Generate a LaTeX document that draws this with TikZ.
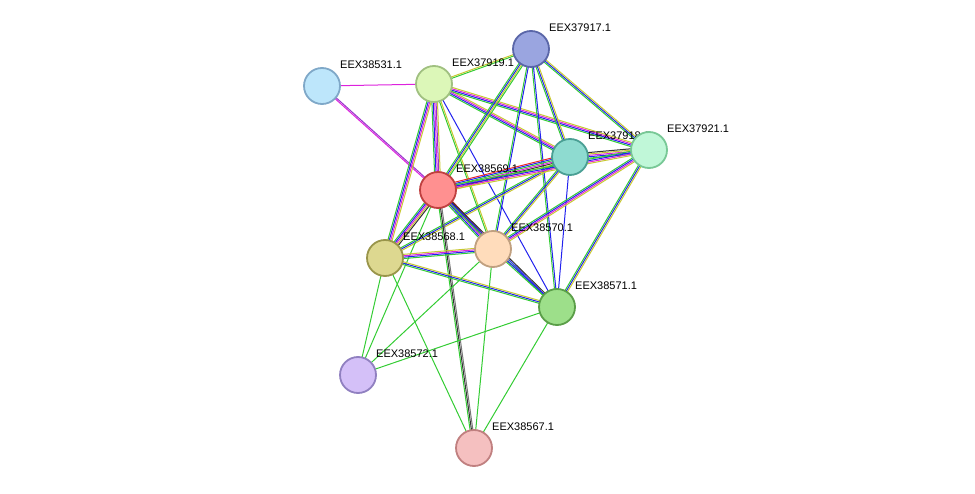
\documentclass[tikz,border=0pt]{standalone}
\usepackage{fontspec}
\setmainfont{Liberation Sans}
\usetikzlibrary{calc,backgrounds}
\definecolor{eg}{HTML}{33CC33}
\definecolor{eb}{HTML}{2222EE}
\definecolor{em}{HTML}{DD22DD}
\definecolor{ep}{HTML}{9933CC}
\definecolor{ey}{HTML}{C8C832}
\definecolor{ek}{HTML}{333333}
\definecolor{er}{HTML}{EE2222}
\definecolor{ea}{HTML}{777777}
\definecolor{f1}{HTML}{9AA5E0}\definecolor{d1}{HTML}{5A66A8}
\definecolor{f2}{HTML}{BDE6FB}\definecolor{d2}{HTML}{7FA8C8}
\definecolor{f3}{HTML}{DCF7B8}\definecolor{d3}{HTML}{A0C080}
\definecolor{f4}{HTML}{8EDBD0}\definecolor{d4}{HTML}{4A9F94}
\definecolor{f5}{HTML}{C0F7D8}\definecolor{d5}{HTML}{78C896}
\definecolor{f6}{HTML}{FF9090}\definecolor{d6}{HTML}{C04040}
\definecolor{f7}{HTML}{DDD890}\definecolor{d7}{HTML}{99954A}
\definecolor{f8}{HTML}{FFDCBB}\definecolor{d8}{HTML}{C0A080}
\definecolor{f9}{HTML}{9DDF8A}\definecolor{d9}{HTML}{5A9E48}
\definecolor{fa}{HTML}{D4C0F8}\definecolor{da}{HTML}{9080C0}
\definecolor{fb}{HTML}{F5C0C0}\definecolor{db}{HTML}{C08080}
\tikzset{
  prot/.style 2 args={circle,minimum size=36pt,inner sep=0pt,line width=1.8pt,fill=#1,draw=#2},
  lab/.style={anchor=west,font=\fontsize{11}{13}\selectfont,inner sep=0pt},
  ed/.style={line width=1pt}
}
\newcommand\edgeN[4]{%
  \foreach \c [count=\i] in {#4}{
    \draw[ed,\c] let \p1=($(#2.center)-(#1.center)$), \n1={atan2(\y1,\x1)+90}, \n2={(\i-(#3+1)/2)*1.4} in
      ($(#1.center)+(\n1:\n2 pt)$) -- ($(#2.center)+(\n1:\n2 pt)$);
  }}
\newcommand\prot[5]{%
  \node[prot={#4}{#5}] (#1) at (#2,#3) {};
  \node[lab] at (#2+18,#3-21) {EEX#1.1};}
\begin{document}
\begin{tikzpicture}[x=1pt,y=-1pt]
\useasboundingbox (0,0) rectangle (975,494);
\prot{37917}{531}{49}{f1}{d1}
\prot{38531}{322}{86}{f2}{d2}
\prot{37919}{434}{84}{f3}{d3}
\prot{37918}{570}{157}{f4}{d4}
\prot{37921}{649}{150}{f5}{d5}
\prot{38569}{438}{190}{f6}{d6}
\prot{38568}{385}{258}{f7}{d7}
\prot{38570}{493}{249}{f8}{d8}
\prot{38571}{557}{307}{f9}{d9}
\prot{38572}{358}{375}{fa}{da}
\prot{38567}{474}{448}{fb}{db}
\begin{scope}[on background layer]
\edgeN{38531}{38569}{2}{em,ep}
\edgeN{38531}{37919}{1}{em}
\edgeN{37919}{37917}{2}{eg,ey}
\edgeN{37919}{38569}{5}{eg,eb,em,ep,ey}
\edgeN{37919}{37918}{4}{eg,eb,em,ey}
\edgeN{37919}{37921}{4}{eg,eb,em,ey}
\edgeN{37919}{38568}{4}{eg,eb,em,ey}
\edgeN{37919}{38570}{2}{eg,ey}
\edgeN{37919}{38571}{1}{eb}
\edgeN{37917}{38569}{4}{eg,eb,ey,eg}
\edgeN{37917}{37918}{3}{eg,eb,ey}
\edgeN{37917}{37921}{3}{eg,eb,ey}
\edgeN{37917}{38570}{2}{eg,eb}
\edgeN{37917}{38571}{2}{eg,eb}
\edgeN{37918}{37921}{5}{eg,eb,em,ey,ek}
\edgeN{37918}{38569}{6}{er,eb,eg,em,ek,ey}
\edgeN{37918}{38568}{3}{eg,eb,ey}
\edgeN{37918}{38570}{3}{eg,eb,ey}
\edgeN{37918}{38571}{1}{eb}
\edgeN{37921}{38569}{4}{eg,eb,em,ey}
\edgeN{37921}{38570}{4}{eg,eb,em,ey}
\edgeN{37921}{38571}{3}{eg,eb,ey}
\edgeN{38569}{38568}{5}{eg,eb,em,ey,ek}
\edgeN{38569}{38570}{5}{eg,eb,em,ek,er}
\edgeN{38569}{38571}{3}{eg,eb,ek}
\edgeN{38569}{38567}{3}{eg,ek,ea}
\edgeN{38569}{38572}{1}{eg}
\edgeN{38568}{38570}{4}{eg,eb,em,ey}
\edgeN{38568}{38571}{3}{eg,eb,ey}
\edgeN{38568}{38572}{1}{eg}
\edgeN{38568}{38567}{1}{eg}
\edgeN{38570}{38571}{2}{eg,eb}
\edgeN{38570}{38572}{1}{eg}
\edgeN{38570}{38567}{1}{eg}
\edgeN{38571}{38572}{1}{eg}
\edgeN{38571}{38567}{1}{eg}
\end{scope}
\end{tikzpicture}
\end{document}
